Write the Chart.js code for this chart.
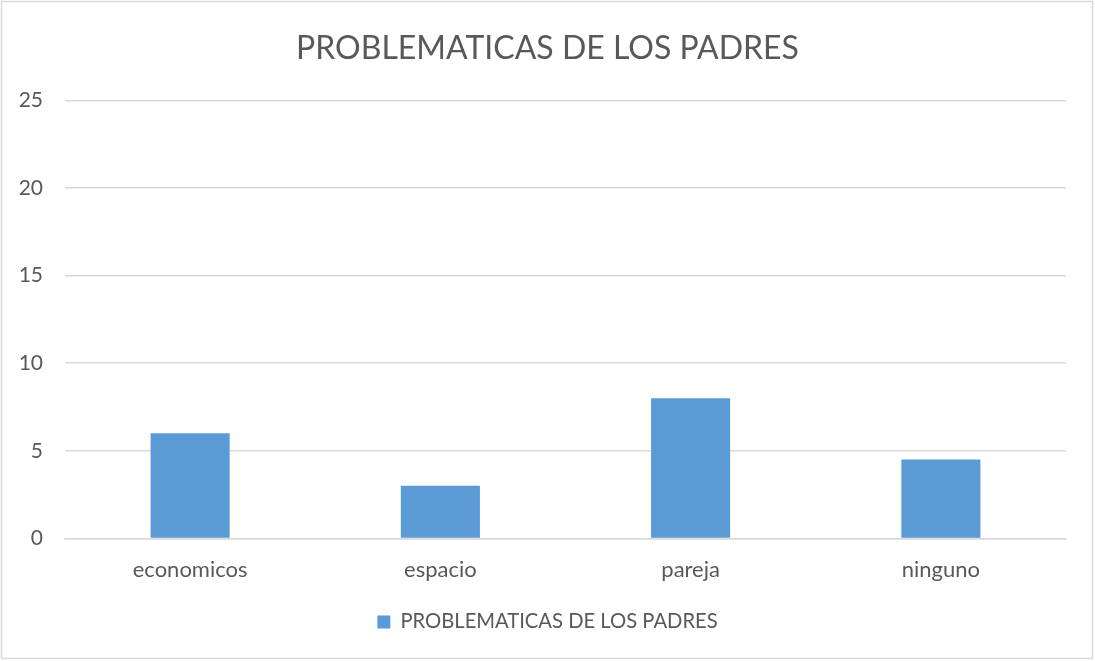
<!DOCTYPE html>
<html><head><meta charset="utf-8">
<script src="https://cdn.jsdelivr.net/npm/chart.js@4/dist/chart.umd.min.js"></script>
<style>html,body{margin:0;padding:0;background:#fff}#wrap{position:absolute;left:0;top:0;width:1095px;height:661px}</style>
</head><body><div id="wrap"><canvas id="c" width="1095" height="661"></canvas></div>
<script>
const categories = ["economicos", "espacio", "pareja", "ninguno"];
const seriesName = "PROBLEMATICAS DE LOS PADRES";
const values = [6, 3, 8, 4.5];
const yTicks = [0, 5, 10, 15, 20, 25];

const FONT = "Lato, 'Open Sans', sans-serif";
const border = {
  id: 'border',
  afterDraw(chart) {
    const c = chart.ctx;
    c.save();
    c.strokeStyle = '#d9d9d9';
    c.lineWidth = 1.5;
    c.strokeRect(1.5, 1.5, 1091, 657);
    c.restore();
  }
};
new Chart(document.getElementById('c'), {
  type: 'bar',
  data: { labels: categories, datasets: [{ label: seriesName, data: values, backgroundColor: '#5b9bd5', borderColor: '#5b9bd5', borderWidth: 0, categoryPercentage: 1, barPercentage: 0.316 }] },
  plugins: [border],
  options: {
    responsive: false, animation: false,
    layout: { padding: { left: 0, right: 0, top: 0, bottom: 19 } },
    plugins: {
      tooltip: { enabled: false },
      title: { display: true, text: seriesName, color: '#595959', font: { family: FONT, size: 32, weight: 'normal' }, padding: { top: 29, bottom: 33 } },
      legend: { position: 'bottom', labels: { color: '#595959', font: { family: FONT, size: 20.2 }, boxWidth: 13, boxHeight: 13, padding: 10 } }
    },
    scales: {
      x: { grid: { display: false, drawTicks: false }, border: { color: '#d9d9d9', width: 1.5 },
           ticks: { color: '#595959', font: { family: FONT, size: 22 }, padding: 18.5 } },
      y: { min: 0, max: 25, afterBuildTicks(s) { s.ticks = yTicks.map(v => ({ value: v })); },
           afterFit(s) { s.width = 65; },
           grid: { color: '#d9d9d9', lineWidth: 1.5, drawTicks: false }, border: { display: false },
           ticks: { color: '#595959', font: { family: FONT, size: 21 }, padding: 22 } },
      yRight: { position: 'right', display: true, min: 0, max: 25,
           afterFit(s) { s.width = 29; },
           grid: { display: false, drawTicks: false }, border: { display: false },
           ticks: { display: false } }
    }
  }
});
</script></body></html>
